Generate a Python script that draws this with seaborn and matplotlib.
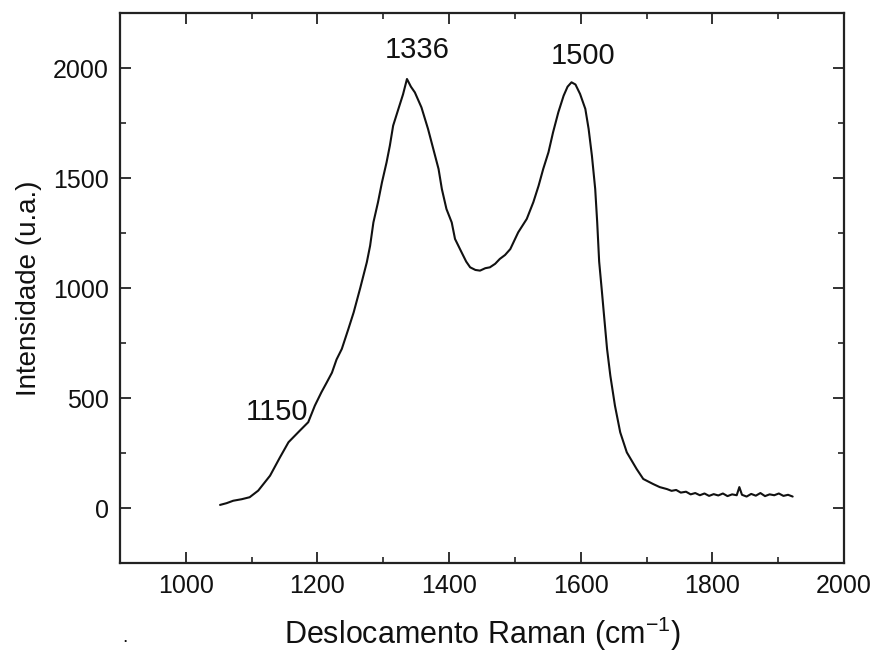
import numpy as np
import pandas as pd
import matplotlib
matplotlib.use('Agg')
import matplotlib.pyplot as plt
import seaborn as sns
from matplotlib.ticker import MultipleLocator

# ── Data ──────────────────────────────────────────────────────────────────────
raman_shift = [1052, 1062, 1072, 1085, 1097, 1110, 1128, 1143, 1156, 1173,
               1186, 1196, 1206, 1214, 1222, 1229, 1237, 1247, 1255, 1265, 1275,
               1280, 1285, 1292, 1298, 1305, 1310, 1315, 1323, 1330, 1336,
               1342, 1348, 1358, 1368, 1376, 1384, 1389, 1396, 1404, 1409,
               1419, 1426, 1432, 1440, 1447, 1455, 1462, 1470, 1477, 1485,
               1493, 1505, 1518, 1528, 1536, 1543, 1551, 1558, 1566, 1574,
               1580, 1586, 1592, 1599, 1607, 1612, 1617, 1622, 1625, 1628,
               1632, 1635, 1640, 1645, 1652, 1660, 1670, 1685, 1695, 1710,
               1720, 1731, 1738, 1745, 1752, 1760, 1767, 1774, 1781, 1788,
               1795, 1802, 1809, 1816, 1823, 1830, 1837, 1841, 1845, 1852,
               1859, 1866, 1873, 1880, 1887, 1894, 1901, 1908, 1915, 1922]
intensity = [14, 22, 33, 40, 49, 79, 147, 230, 299, 351,
             390, 465, 526, 570, 615, 675, 723, 814, 889, 1000, 1117,
             1192, 1298, 1390, 1480, 1571, 1647, 1738, 1814, 1880, 1950,
             1915, 1889, 1821, 1723, 1632, 1541, 1450, 1359, 1298, 1223,
             1162, 1120, 1094, 1082, 1079, 1090, 1094, 1110, 1132, 1150,
             1177, 1253, 1314, 1390, 1465, 1541, 1617, 1708, 1799, 1874,
             1915, 1935, 1925, 1882, 1814, 1723, 1601, 1450, 1300, 1120,
             990, 889, 723, 601, 465, 344, 253, 177, 132, 109,
             95, 86, 78, 82, 70, 74, 62, 68, 58, 66,
             55, 63, 57, 66, 54, 62, 58, 95, 60, 52,
             64, 56, 68, 54, 62, 58, 66, 55, 60, 52]

peak_labels = ['1336', '1500', '1150']
peak_label_x = [1351, 1604, 1138]
peak_label_y = [2083, 2056, 435]

df = pd.DataFrame({'shift': raman_shift, 'intensity': intensity})

# ── Style ─────────────────────────────────────────────────────────────────────
sns.set_style('ticks')
plt.rcParams['font.family'] = ['Liberation Sans', 'DejaVu Sans']
plt.rcParams['mathtext.default'] = 'regular'
plt.rcParams['text.color'] = '#111111'
plt.rcParams['axes.labelcolor'] = '#111111'
plt.rcParams['xtick.labelcolor'] = '#111111'
plt.rcParams['ytick.labelcolor'] = '#111111'

fig = plt.figure(figsize=(8.79, 6.55), dpi=100)
ax = fig.add_axes([120 / 879, 1 - 563 / 655, 724 / 879, 550 / 655])

sns.lineplot(data=df, x='shift', y='intensity', color='#111111', lw=1.5, ax=ax)

for lab, lx, ly in zip(peak_labels, peak_label_x, peak_label_y):
    ax.text(lx, ly, lab, ha='center', va='center', fontsize=21, color='#111111')

ax.set_xlim(900, 2000)
ax.set_ylim(-250, 2250)
ax.set_xticks(range(1000, 2001, 200))
ax.set_yticks(range(0, 2001, 500))
ax.xaxis.set_minor_locator(MultipleLocator(100))
ax.yaxis.set_minor_locator(MultipleLocator(250))
ax.tick_params(which='both', direction='in', top=True, right=True, color='#222222')
ax.tick_params(which='major', length=8, width=1.3, labelsize=18, pad=8)
ax.tick_params(which='minor', length=4, width=1.2)

for sp in ax.spines.values():
    sp.set_linewidth(1.6)
    sp.set_color('#222222')

ax.set_xlabel('Deslocamento Raman (cm$^{-1}$)', fontsize=22, labelpad=12)
ax.set_ylabel('Intensidade (u.a.)', fontsize=20, labelpad=8)

fig.text(122 / 879, 1 - 642 / 655, '.', fontsize=14)

plt.savefig('out.png', dpi=100)
